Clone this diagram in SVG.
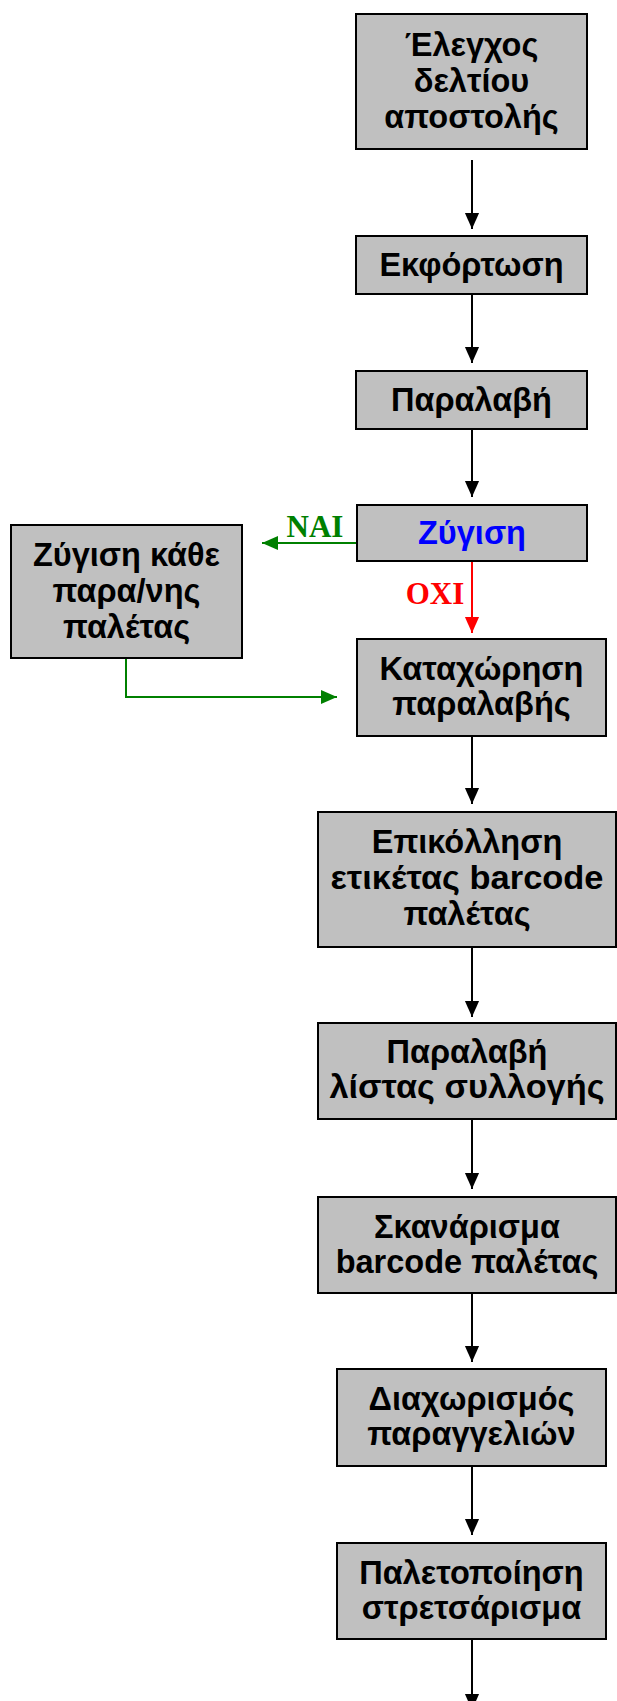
<svg xmlns="http://www.w3.org/2000/svg" width="617" height="1701" viewBox="0 0 617 1701">
<style>
.box{fill:#c0c0c0;stroke:#000;stroke-width:2}
.t{font-family:"Liberation Sans",Arial,sans-serif;font-weight:bold;font-size:32.5px;text-anchor:middle;fill:#000}
.lbl{font-family:"Liberation Serif","Times New Roman",serif;font-weight:bold;font-size:31px;text-anchor:middle}
.c{fill:none;stroke-width:2}
</style>
<defs>
<marker id="ab" markerUnits="userSpaceOnUse" markerWidth="16" markerHeight="18" refX="17" refY="7.5" orient="auto" viewBox="0 0 17 15"><path d="M0,0 L17,7.5 L0,15 Z" fill="#000"/></marker>
<marker id="ag" markerUnits="userSpaceOnUse" markerWidth="16" markerHeight="18" refX="17" refY="7.5" orient="auto" viewBox="0 0 17 15"><path d="M0,0 L17,7.5 L0,15 Z" fill="#008000"/></marker>
<marker id="ar" markerUnits="userSpaceOnUse" markerWidth="16" markerHeight="18" refX="17" refY="7.5" orient="auto" viewBox="0 0 17 15"><path d="M0,0 L17,7.5 L0,15 Z" fill="#ff0000"/></marker>
</defs>
<g id="connectors">
<line class="c" stroke="#000" x1="472" y1="160" x2="472" y2="229" marker-end="url(#ab)"/>
<line class="c" stroke="#000" x1="472" y1="294" x2="472" y2="363" marker-end="url(#ab)"/>
<line class="c" stroke="#000" x1="472" y1="429" x2="472" y2="497" marker-end="url(#ab)"/>
<line class="c" stroke="#008000" x1="357" y1="543" x2="262" y2="543" marker-end="url(#ag)"/>
<line class="c" stroke="#ff0000" x1="472" y1="561" x2="472" y2="633" marker-end="url(#ar)"/>
<polyline class="c" stroke="#008000" points="126,659 126,697 337,697" marker-end="url(#ag)"/>
<line class="c" stroke="#000" x1="472" y1="736" x2="472" y2="804" marker-end="url(#ab)"/>
<line class="c" stroke="#000" x1="472" y1="947" x2="472" y2="1017" marker-end="url(#ab)"/>
<line class="c" stroke="#000" x1="472" y1="1119" x2="472" y2="1189" marker-end="url(#ab)"/>
<line class="c" stroke="#000" x1="472" y1="1293" x2="472" y2="1362" marker-end="url(#ab)"/>
<line class="c" stroke="#000" x1="472" y1="1466" x2="472" y2="1535" marker-end="url(#ab)"/>
<line class="c" stroke="#000" x1="472" y1="1639" x2="472" y2="1710" marker-end="url(#ab)"/>
<text class="lbl" x="315" y="537" fill="#008000">ΝΑΙ</text>
<text class="lbl" x="435" y="604" fill="#ff0000">ΟΧΙ</text>
</g>
<g id="n1"><rect class="box" x="356" y="14" width="231" height="135"/>
<text class="t" x="471.5" y="56">Έλεγχος</text><text class="t" x="471.5" y="92">δελτίου</text><text class="t" x="471.5" y="128">αποστολής</text></g>
<g id="n2"><rect class="box" x="356" y="236" width="231" height="58"/>
<text class="t" x="471.5" y="276">Εκφόρτωση</text></g>
<g id="n3"><rect class="box" x="356" y="371" width="231" height="58"/>
<text class="t" x="471.5" y="411">Παραλαβή</text></g>
<g id="n4"><rect class="box" x="357" y="505" width="230" height="56"/>
<text class="t" x="472" y="544" style="fill:#0000ff">Ζύγιση</text></g>
<g id="n5"><rect class="box" x="11" y="525" width="231" height="133"/>
<text class="t" x="126.5" y="566">Ζύγιση κάθε</text><text class="t" x="126.5" y="602">παρα/νης</text><text class="t" x="126.5" y="638">παλέτας</text></g>
<g id="n6"><rect class="box" x="357" y="639" width="249" height="97"/>
<text class="t" x="481.5" y="680">Καταχώρηση</text><text class="t" x="481.5" y="715">παραλαβής</text></g>
<g id="n7"><rect class="box" x="318" y="812" width="298" height="135"/>
<text class="t" x="467" y="853">Επικόλληση</text><text class="t" x="467" y="889" textLength="273" lengthAdjust="spacingAndGlyphs">ετικέτας barcode</text><text class="t" x="467" y="925">παλέτας</text></g>
<g id="n8"><rect class="box" x="318" y="1023" width="298" height="96"/>
<text class="t" x="467" y="1063">Παραλαβή</text><text class="t" x="467" y="1098" textLength="275" lengthAdjust="spacingAndGlyphs">λίστας συλλογής</text></g>
<g id="n9"><rect class="box" x="318" y="1197" width="298" height="96"/>
<text class="t" x="467" y="1238">Σκανάρισμα</text><text class="t" x="467" y="1273">barcode παλέτας</text></g>
<g id="n10"><rect class="box" x="337" y="1369" width="269" height="97"/>
<text class="t" x="471.5" y="1410">Διαχωρισμός</text><text class="t" x="471.5" y="1445">παραγγελιών</text></g>
<g id="n11"><rect class="box" x="337" y="1543" width="269" height="96"/>
<text class="t" x="471.5" y="1584">Παλετοποίηση</text><text class="t" x="471.5" y="1619">στρετσάρισμα</text></g>
</svg>
